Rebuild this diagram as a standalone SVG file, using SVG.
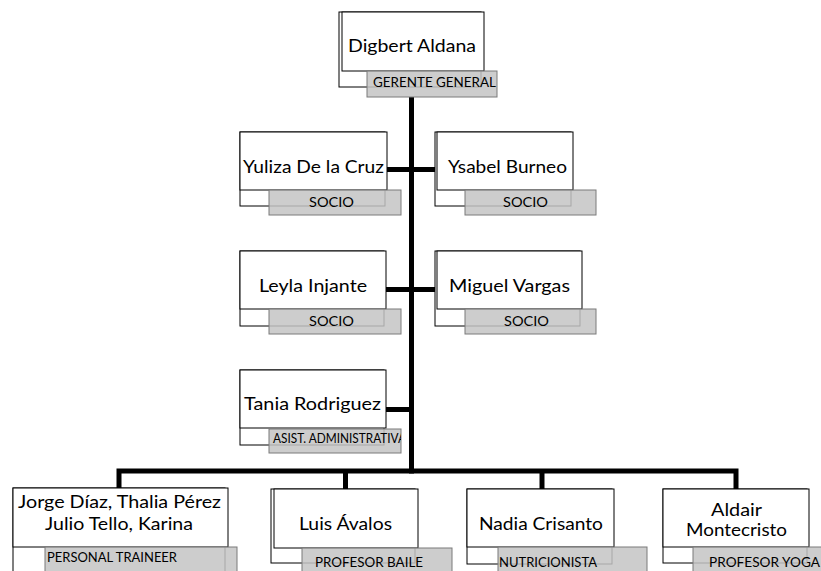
<svg xmlns="http://www.w3.org/2000/svg" width="821" height="571" viewBox="0 0 821 571">
<style>
.bg{fill:#ffffff}
.back{fill:#ffffff;stroke:#000000;stroke-width:1}
.box{fill:#ffffff;stroke:#000000;stroke-width:1}
.lab{fill:#c4c4c4;fill-opacity:0.85;stroke:#7a7a7a;stroke-width:1}
.name{font-family:Lato,"Liberation Sans",sans-serif;font-size:18px;fill:#000000;text-anchor:middle}
.title{font-family:Lato,"Liberation Sans",sans-serif;font-size:13px;fill:#000000}
.mid{text-anchor:middle}
.conn{fill:none;stroke:#000000;stroke-width:5;stroke-linejoin:miter;stroke-linecap:butt}
</style>
<defs>
<clipPath id="clipTania"><rect x="269" y="429" width="132" height="24"/></clipPath>
</defs>
<rect class="bg" x="0" y="0" width="821" height="571"/>

<g id="connectors">
<path class="conn" d="M411.5,97 V473.5"/>
<path class="conn" d="M387,169.5 H437"/>
<path class="conn" d="M386,289.5 H437"/>
<path class="conn" d="M386,409.5 H411.5"/>
<path class="conn" d="M119,489 V471 H736 V489"/>
<path class="conn" d="M345.5,471 V489"/>
<path class="conn" d="M542,471 V489"/>
</g>

<g id="node-digbert">
<rect class="back" x="339" y="12" width="142" height="75"/>
<rect class="box" x="342" y="12" width="142" height="59"/>
<rect class="lab" x="367" y="71" width="130" height="26"/>
<text class="name" x="412" y="52" textLength="128" lengthAdjust="spacingAndGlyphs">Digbert Aldana</text>
<text class="title mid" x="434.5" y="87" textLength="123" lengthAdjust="spacingAndGlyphs">GERENTE GENERAL</text>
</g>

<g id="node-yuliza">
<rect class="back" x="240" y="132" width="145" height="74"/>
<rect class="box" x="240" y="132" width="147" height="58"/>
<rect class="lab" x="269" y="190" width="132" height="25"/>
<text class="name" x="313.5" y="173" textLength="141" lengthAdjust="spacingAndGlyphs">Yuliza De la Cruz</text>
<text class="title mid" x="331.5" y="207" textLength="45" lengthAdjust="spacingAndGlyphs">SOCIO</text>
</g>

<g id="node-ysabel">
<rect class="back" x="435" y="132" width="136" height="74"/>
<rect class="box" x="437" y="132" width="136" height="58"/>
<rect class="lab" x="465" y="190" width="131" height="25"/>
<text class="name" x="507.5" y="173" textLength="119" lengthAdjust="spacingAndGlyphs">Ysabel Burneo</text>
<text class="title mid" x="525.5" y="207" textLength="45" lengthAdjust="spacingAndGlyphs">SOCIO</text>
</g>

<g id="node-leyla">
<rect class="back" x="240" y="251" width="144" height="75"/>
<rect class="box" x="240" y="251" width="146" height="58"/>
<rect class="lab" x="269" y="309" width="132" height="25"/>
<text class="name" x="313" y="292" textLength="108" lengthAdjust="spacingAndGlyphs">Leyla Injante</text>
<text class="title mid" x="331.5" y="326" textLength="45" lengthAdjust="spacingAndGlyphs">SOCIO</text>
</g>

<g id="node-miguel">
<rect class="back" x="435" y="251" width="145" height="75"/>
<rect class="box" x="437" y="251" width="145" height="58"/>
<rect class="lab" x="465" y="309" width="131" height="25"/>
<text class="name" x="509.5" y="292" textLength="121" lengthAdjust="spacingAndGlyphs">Miguel Vargas</text>
<text class="title mid" x="526.5" y="326" textLength="45" lengthAdjust="spacingAndGlyphs">SOCIO</text>
</g>

<g id="node-tania">
<rect class="back" x="240" y="370" width="144" height="75"/>
<rect class="box" x="240" y="370" width="146" height="58"/>
<rect class="lab" x="269" y="429" width="132" height="24"/>
<text class="name" x="312.5" y="410" textLength="137" lengthAdjust="spacingAndGlyphs">Tania Rodriguez</text>
<text class="title" x="273" y="443" textLength="133" lengthAdjust="spacingAndGlyphs" clip-path="url(#clipTania)">ASIST. ADMINISTRATIVA</text>
</g>

<g id="node-jorge">
<rect class="back" x="13" y="488" width="212" height="100"/>
<rect class="box" x="13" y="488" width="215" height="59"/>
<rect class="lab" x="45" y="547" width="192" height="30"/>
<text class="name" x="119.5" y="508" textLength="203" lengthAdjust="spacingAndGlyphs">Jorge Díaz, Thalia Pérez</text>
<text class="name" x="119" y="530" textLength="148" lengthAdjust="spacingAndGlyphs">Julio Tello, Karina</text>
<text class="title" x="47" y="562" textLength="130" lengthAdjust="spacingAndGlyphs">PERSONAL TRAINEER</text>
</g>

<g id="node-luis">
<rect class="back" x="271" y="489" width="144" height="74"/>
<rect class="box" x="274" y="489" width="144" height="59"/>
<rect class="lab" x="302" y="548" width="150" height="30"/>
<text class="name" x="345.5" y="530" textLength="93" lengthAdjust="spacingAndGlyphs">Luis Ávalos</text>
<text class="title" x="315" y="567" textLength="108" lengthAdjust="spacingAndGlyphs">PROFESOR BAILE</text>
</g>

<g id="node-nadia">
<rect class="back" x="467" y="489" width="145" height="75"/>
<rect class="box" x="467" y="489" width="147" height="58"/>
<rect class="lab" x="498" y="547" width="149" height="30"/>
<text class="name" x="541" y="530" textLength="124" lengthAdjust="spacingAndGlyphs">Nadia Crisanto</text>
<text class="title" x="499" y="567" textLength="98" lengthAdjust="spacingAndGlyphs">NUTRICIONISTA</text>
</g>

<g id="node-aldair">
<rect class="back" x="663" y="489" width="144" height="74"/>
<rect class="box" x="663" y="489" width="146" height="58"/>
<rect class="lab" x="693" y="547" width="140" height="30"/>
<text class="name" x="736.5" y="516" textLength="51" lengthAdjust="spacingAndGlyphs">Aldair</text>
<text class="name" x="736.5" y="536" textLength="101" lengthAdjust="spacingAndGlyphs">Montecristo</text>
<text class="title" x="709" y="567" textLength="111" lengthAdjust="spacingAndGlyphs">PROFESOR YOGA</text>
</g>
</svg>
